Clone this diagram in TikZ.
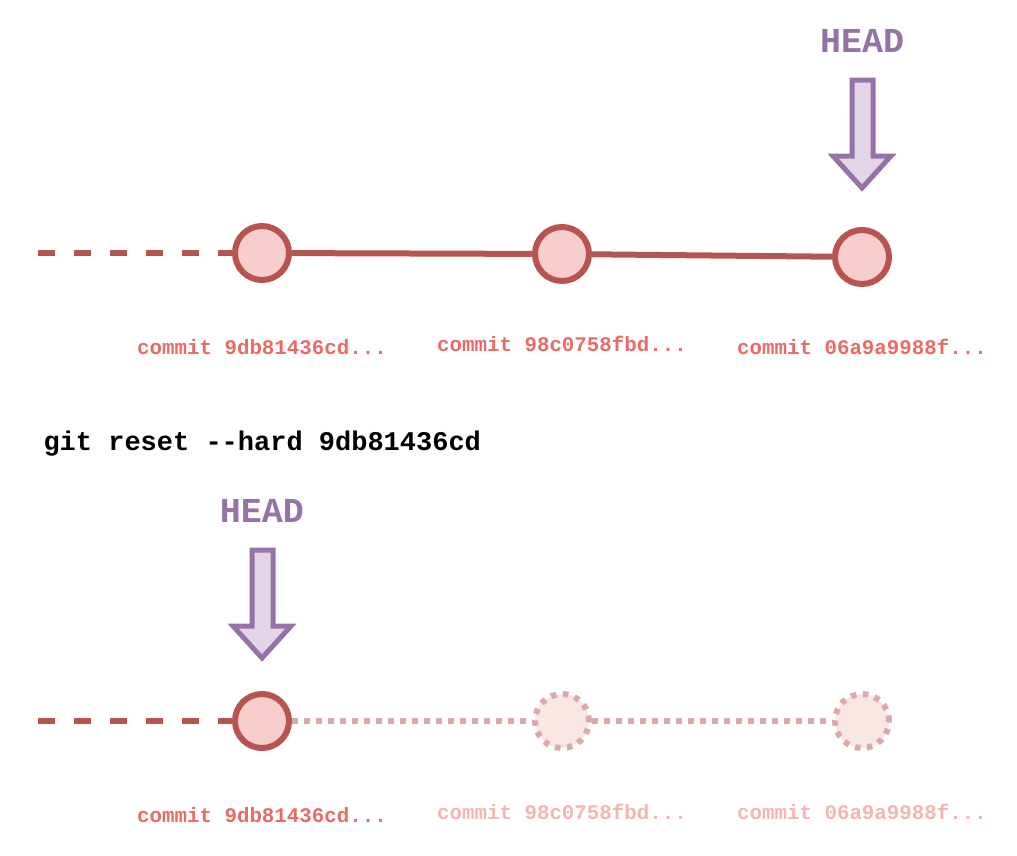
\documentclass[tikz,border=0pt]{standalone}
\usepackage{fontspec}
\setmonofont{Liberation Mono}
\begin{document}
\begin{tikzpicture}[x=1pt,y=-1pt,
  commit/.style={circle,draw=cred,fill=cfill,line width=6pt,minimum size=54pt,inner sep=0pt},
  ghost/.style={circle,draw=cred!50,fill=cfill!50,line width=6pt,minimum size=54pt,inner sep=0pt,dash pattern=on 5.5pt off 6.5pt},
  lbl/.style={font=\ttfamily\bfseries\fontsize{20.8}{24}\selectfont,text=ctext},
  ghostlbl/.style={font=\ttfamily\bfseries\fontsize{20.8}{24}\selectfont,text=ctext!50},
  headlbl/.style={font=\ttfamily\bfseries\fontsize{35}{38}\selectfont,text=hstroke},
  headarrow/.style={draw=hstroke,fill=hfill,line width=5pt,line join=miter},
  solidline/.style={draw=cred,line width=6pt},
  dashline/.style={draw=cred,line width=6pt,dash pattern=on 17pt off 19pt},
  dotline/.style={draw=cred!50,line width=6pt,dash pattern=on 5.5pt off 6.5pt},
  cmd/.style={font=\ttfamily\bfseries\fontsize{27}{30}\selectfont,text=black,anchor=west}
]
\definecolor{cred}{HTML}{B85450}
\definecolor{cfill}{HTML}{F8CECC}
\definecolor{ctext}{HTML}{EA6B66}
\definecolor{hstroke}{HTML}{9673A6}
\definecolor{hfill}{HTML}{E1D5E7}
\useasboundingbox (0,0) rectangle (1017,855);

% ---------- top row ----------
\coordinate (tstart) at (38,253);
\node[commit] (t1) at (262,253) {};
\node[commit] (t2) at (562,254) {};
\node[commit] (t3) at (862,257) {};
\draw[dashline] (tstart) -- (t1.west);
\draw[solidline] (t1) -- (t2);
\draw[solidline] (t2) -- (t3);
\node[lbl] (tl1) at (262,347) {commit 9db81436cd...};
\node[lbl] (tl2) at (562,344) {commit 98c0758fbd...};
\node[lbl] (tl3) at (862,347) {commit 06a9a9988f...};

\node[headlbl] (th) at (862,41) {HEAD};
\draw[headarrow] (852,80) -- (873,80) -- (873,156) -- (891,156) -- (862,188) -- (833,156) -- (852,156) -- cycle;

% ---------- command ----------
\node[cmd] (cmd) at (40,444) {git reset --hard 9db81436cd};

% ---------- bottom row ----------
\coordinate (bstart) at (38,721);
\node[commit] (b1) at (262,721) {};
\node[ghost] (b2) at (562,721) {};
\node[ghost] (b3) at (862,721) {};
\draw[dashline] (bstart) -- (b1.west);
\draw[dotline] (b1.east) -- (b2.west);
\draw[dotline] (b2.east) -- (b3.west);
\node[lbl] (bl1) at (262,815) {commit 9db81436cd...};
\node[ghostlbl] (bl2) at (562,812) {commit 98c0758fbd...};
\node[ghostlbl] (bl3) at (862,812) {commit 06a9a9988f...};

\node[headlbl] (bh) at (262,511) {HEAD};
\draw[headarrow] (252,550) -- (273,550) -- (273,626) -- (291,626) -- (262,658) -- (233,626) -- (252,626) -- cycle;
\end{tikzpicture}
\end{document}
